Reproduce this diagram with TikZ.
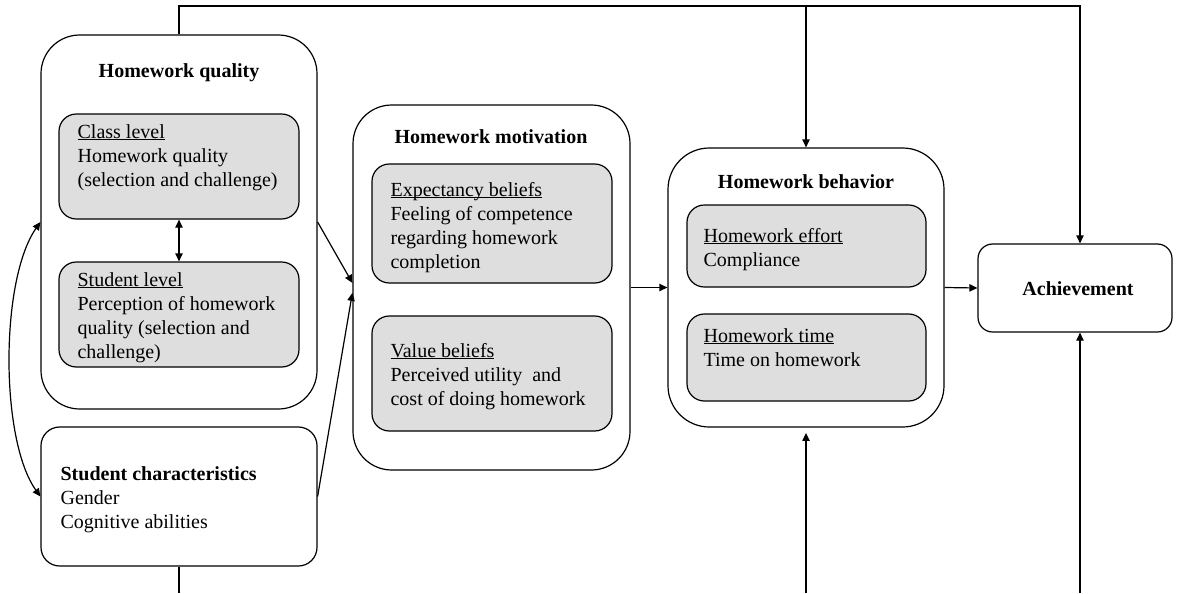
\documentclass[tikz,border=0pt]{standalone}
\usepackage{fontspec}
\setmainfont{Liberation Serif}
\usetikzlibrary{arrows.meta,fit}
\definecolor{boxgray}{RGB}{222,222,222}
\newsavebox\ulbox
\newcommand\uln[1]{\sbox\ulbox{#1}\rlap{\rule[-1.6pt]{\wd\ulbox}{0.6pt}}\usebox\ulbox}
\newcommand\txtlines[1]{\begin{tabular}[t]{@{}l@{}}#1\end{tabular}}
\begin{document}
\begin{tikzpicture}[x=0.75pt,y=-0.75pt,line width=0.9pt,
  outerbox/.style={draw,rounded corners=29pt,inner sep=0pt},
  innerbox/.style={draw,fill=boxgray,rounded corners=13pt,inner sep=0pt},
  plainbox/.style={draw,rounded corners=13pt,inner sep=0pt},
  txt/.style={anchor=base west,inner sep=0pt,font=\fontsize{15}{18}\selectfont},
  ttl/.style={anchor=base,inner sep=0pt,font=\fontsize{15}{18}\selectfont\bfseries},
  arr/.style={-{Triangle[length=6pt,width=5.5pt]}},
  darr/.style={{Triangle[length=6pt,width=5.5pt]}-{Triangle[length=6pt,width=5.5pt]}}]
\useasboundingbox (0,0) rectangle (1178,593);

% homework quality
\node[outerbox,fit={(41,35)(317,409)}] (hq) {};
\node[ttl] (hqt) at (179,77) {Homework quality};
\node[innerbox,fit={(59,114)(299,219)}] (cl) {};
\node[txt] (clt) at (77,138) {\txtlines{\uln{Class level}\\Homework quality\\(selection and challenge)}};
\node[innerbox,fit={(59,262)(299,367)}] (sl) {};
\node[txt] (slt) at (77,286) {\txtlines{\uln{Student level}\\Perception of homework\\quality (selection and\\challenge)}};

% student characteristics
\node[plainbox,rounded corners=14pt,fit={(41,427)(317,566)}] (sc) {};
\node[txt] (sct) at (60,480) {\txtlines{\textbf{Student characteristics}\\Gender\\Cognitive abilities}};

% homework motivation
\node[outerbox,fit={(353,105)(630,470)}] (hm) {};
\node[ttl] (hmt) at (491,143) {Homework motivation};
\node[innerbox,fit={(372,164)(612,283)}] (eb) {};
\node[txt] (ebt) at (390,196) {\txtlines{\uln{Expectancy beliefs}\\Feeling of competence\\regarding homework\\completion}};
\node[innerbox,fit={(372,316)(612,431)}] (vb) {};
\node[txt] (vbt) at (390,357) {\txtlines{\uln{Value beliefs}\\Perceived utility~ and\\cost of doing homework}};

% homework behavior
\node[outerbox,rounded corners=31pt,fit={(668,148)(944,427)}] (hb) {};
\node[ttl] (hbt) at (806,188) {Homework behavior};
\node[innerbox,fit={(687,205)(926,287)}] (he) {};
\node[txt] (het) at (703,242) {\txtlines{\uln{Homework effort}\\Compliance}};
\node[innerbox,fit={(687,314)(926,401)}] (ht) {};
\node[txt] (htt) at (703,342) {\txtlines{\uln{Homework time}\\Time on homework}};

% achievement
\node[plainbox,rounded corners=11pt,fit={(978,244)(1172,332)}] (ach) {};
\node[ttl] (acht) at (1078,295) {Achievement};

% free ends of the long connectors
\coordinate (tl) at (179,6);
\coordinate (tb) at (806,6);
\coordinate (tr) at (1080,6);
\coordinate (bl) at (179,593);
\coordinate (bb) at (806,593);
\coordinate (br) at (1080,593);

% connectors
\draw[darr] (cl.south) -- (sl.north);
\draw[darr] (hq.west) .. controls (0,280) and (0,440) .. (sc.west);
\draw[arr] (hq.east) -- ([yshift=3.4pt]hm.west);
\draw[arr] (sc.east) -- ([yshift=-4pt]hm.west);
\draw[arr] (hm.east) -- (hb.west);
\draw[arr] (hb.east) -- (ach.west);
\draw[arr] (hq.north) |- (tr) -- (tr |- ach.north);
\draw[arr] (tb) -- (hb.north);
\draw (sc.south) -- (bl);
\draw[arr,shorten >=4pt] (bb) -- (hb.south);
\draw[arr] (br) -- (br |- ach.south);
\end{tikzpicture}
\end{document}
